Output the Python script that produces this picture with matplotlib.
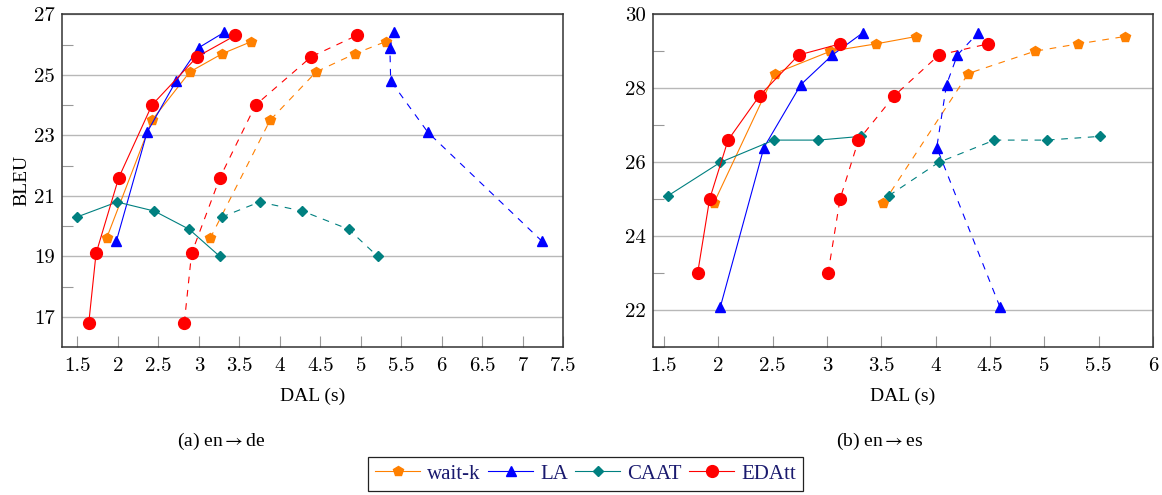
import matplotlib
matplotlib.use('Agg')
import matplotlib.pyplot as plt

plt.rcParams['mathtext.fontset'] = 'stix'

# en->de (left)
de_waitk_x = [1.86, 2.42, 2.89, 3.29, 3.65]
de_waitk_y = [19.6, 23.5, 25.1, 25.7, 26.1]
de_la_x = [1.98, 2.36, 2.72, 3.0, 3.31]
de_la_y = [19.5, 23.1, 24.8, 25.9, 26.4]
de_caat_x = [1.49, 1.99, 2.45, 2.88, 3.26]
de_caat_y = [20.3, 20.8, 20.5, 19.9, 19.0]
de_edatt_x = [1.64, 1.73, 2.01, 2.42, 2.98, 3.45]
de_edatt_y = [16.8, 19.1, 21.6, 24.0, 25.6, 26.3]

de_waitk_ca_x = [3.14, 3.88, 4.45, 4.93, 5.31]
de_la_ca_x = [7.24, 5.83, 5.37, 5.36, 5.41]
de_caat_ca_x = [3.28, 3.75, 4.28, 4.85, 5.21]
de_edatt_ca_x = [2.82, 2.91, 3.26, 3.70, 4.39, 4.95]

# en->es (right)
es_waitk_x = [1.96, 2.52, 3.03, 3.45, 3.82]
es_waitk_y = [24.9, 28.4, 29.0, 29.2, 29.4]
es_la_x = [2.02, 2.42, 2.76, 3.05, 3.33]
es_la_y = [22.1, 26.4, 28.1, 28.9, 29.5]
es_caat_x = [1.54, 2.02, 2.51, 2.92, 3.31]
es_caat_y = [25.1, 26.0, 26.6, 26.6, 26.7]
es_edatt_x = [1.81, 1.92, 2.09, 2.38, 2.74, 3.12]
es_edatt_y = [23.0, 25.0, 26.6, 27.8, 28.9, 29.2]

es_waitk_ca_x = [3.52, 4.30, 4.91, 5.31, 5.74]
es_la_ca_x = [4.59, 4.01, 4.10, 4.20, 4.39]
es_caat_ca_x = [3.57, 4.03, 4.54, 5.02, 5.51]
es_edatt_ca_x = [3.01, 3.12, 3.29, 3.62, 4.03, 4.48]

names = ['wait-k', 'LA', 'CAAT', 'EDAtt']
colors = ['#ff8000', '#0000ff', '#008080', '#ff0000']
markers = ['p', '^', 'D', 'o']
msizes = [7.5, 7, 5, 8.5]

serif = ['Liberation Serif', 'DejaVu Serif']
fig = plt.figure(figsize=(11.62, 4.95), dpi=100)
ax1 = fig.add_axes([0.0534, 0.2984, 0.4312, 0.6727])
ax2 = fig.add_axes([0.562, 0.2984, 0.4303, 0.6727])

def draw(ax, solid, dashed):
    for i in range(4):
        x, y = solid[i]
        ax.plot(x, y, color=colors[i], marker=markers[i], ms=msizes[i], lw=0.8,
                label=names[i], zorder=3)
        ax.plot(dashed[i], y, color=colors[i], marker=markers[i], ms=msizes[i],
                lw=0.8, dashes=(6, 6), zorder=3)

draw(ax1,
     [(de_waitk_x, de_waitk_y), (de_la_x, de_la_y), (de_caat_x, de_caat_y), (de_edatt_x, de_edatt_y)],
     [de_waitk_ca_x, de_la_ca_x, de_caat_ca_x, de_edatt_ca_x])
draw(ax2,
     [(es_waitk_x, es_waitk_y), (es_la_x, es_la_y), (es_caat_x, es_caat_y), (es_edatt_x, es_edatt_y)],
     [es_waitk_ca_x, es_la_ca_x, es_caat_ca_x, es_edatt_ca_x])

ax1.set_xlim(1.31, 7.5)
ax1.set_ylim(16, 27)
ax1.set_xticks([1.5, 2, 2.5, 3, 3.5, 4, 4.5, 5, 5.5, 6, 6.5, 7, 7.5])
ax1.set_xticklabels(['1.5', '2', '2.5', '3', '3.5', '4', '4.5', '5', '5.5', '6', '6.5', '7', '7.5'])
ax1.set_yticks([17, 19, 21, 23, 25, 27])
ax1.set_yticks([18, 20, 22, 24, 26], minor=True)

ax2.set_xlim(1.4, 6)
ax2.set_ylim(21, 30)
ax2.set_xticks([1.5, 2, 2.5, 3, 3.5, 4, 4.5, 5, 5.5, 6])
ax2.set_xticklabels(['1.5', '2', '2.5', '3', '3.5', '4', '4.5', '5', '5.5', '6'])
ax2.set_yticks([22, 24, 26, 28, 30])
ax2.set_yticks([21, 23, 25, 27, 29], minor=True)

for ax in (ax1, ax2):
    ax.grid(axis='y', which='major', color='#b8b8b8', lw=1.0, zorder=0)
    ax.tick_params(axis='both', which='both', direction='in', color='#999999',
                   length=8, width=0.8, labelsize=15)
    ax.tick_params(axis='y', which='major', length=0)
    ax.tick_params(axis='x', pad=7)
    ax.tick_params(axis='y', pad=5)
    for lab in ax.get_xticklabels() + ax.get_yticklabels():
        lab.set_fontfamily('cmr10')
    for s in ax.spines.values():
        s.set_color('#333333')
        s.set_linewidth(1.1)
    ax.set_xlabel('DAL (s)', family=serif, fontsize=14, labelpad=9)

ax1.set_ylabel('BLEU', family=serif, fontsize=14, labelpad=3)

fig.text(0.19, 1 - 441 / 495, r'(a) en$\rightarrow$de', family=serif, fontsize=14,
         ha='center', va='center')
fig.text(0.757, 1 - 441 / 495, r'(b) en$\rightarrow$es', family=serif, fontsize=14,
         ha='center', va='center')

handles, labels = ax1.get_legend_handles_labels()
leg = fig.legend(handles, labels, loc='center', bbox_to_anchor=(0.504, 1 - 474 / 495),
                 ncol=4, frameon=True, fancybox=False, framealpha=1,
                 edgecolor='#222222', handlelength=2.15, handletextpad=0.35,
                 columnspacing=0.35, borderpad=0.35,
                 prop={'family': serif, 'size': 15})
leg.get_frame().set_linewidth(0.9)
for t in leg.get_texts():
    t.set_color('#1a1a6e')

fig.savefig('out.png', dpi=100)
